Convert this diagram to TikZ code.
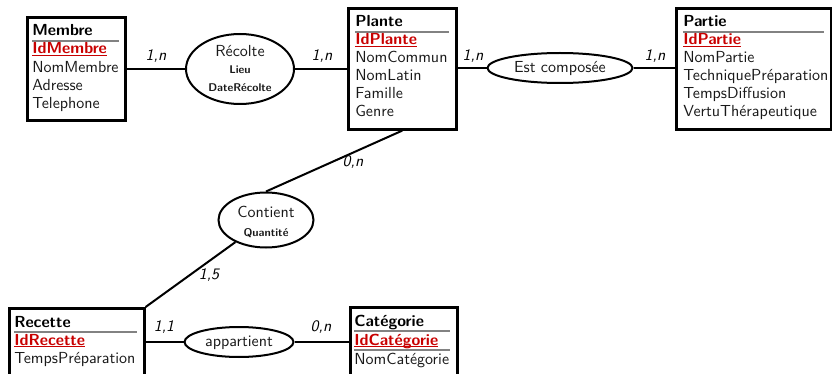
\documentclass[tikz,border=0pt]{standalone}
\usetikzlibrary{shapes.geometric}
\definecolor{pkred}{RGB}{200,0,0}
\definecolor{sepgray}{RGB}{130,130,130}
\newcommand\fsz{\fontsize{10}{12}\selectfont\sffamily}
\newcommand\fsmall{\fontsize{7}{8.5}\selectfont\sffamily\bfseries}
\newcommand\pkul[1]{\setbox0\hbox{#1}\rlap{\rule[-1.5pt]{\wd0}{0.85pt}}\box0}
\tikzset{
 entity/.style={draw, line width=2.6pt, rectangle, inner sep=0pt, anchor=north west},
 assoc/.style={draw, line width=2pt, ellipse, inner sep=0pt},
 link/.style={line width=2pt},
 tx/.style={inner sep=0pt, scale=1.6, transform shape},
 txt/.style={tx, anchor=base west, font=\fsz, text=black!90},
 ttl/.style={txt, font=\fsz\bfseries, text=black},
 pk/.style={txt, font=\fsz\bfseries, text=pkred},
 atxt/.style={tx, anchor=base, font=\fsz, text=black!90},
 asmall/.style={tx, anchor=base, font=\fsmall, text=black!90},
 card/.style={tx, font=\fsz\itshape},
 sepline/.style={draw=sepgray, line width=1.4pt},
}
\begin{document}
\begin{tikzpicture}[x=1pt,y=-1pt]
\useasboundingbox (0,0) rectangle (832,374);
\clip (0,0) rectangle (832,374);

% Membre
\node[entity, minimum width=98pt, minimum height=103pt] (membre) at (26,16) {};
\node[ttl] (membre-t) at (32,36) {Membre};
\draw[sepline] (32,41) -- (119,41);
\node[pk] (membre-id) at (32,54) {\pkul{IdMembre}};
\node[txt] (membre-a1) at (32,73) {NomMembre};
\node[txt] (membre-a2) at (32,91) {Adresse};
\node[txt] (membre-a3) at (32,109) {Telephone};

% Plante
\node[entity, minimum width=108pt, minimum height=121pt] (plante) at (347,7) {};
\node[ttl] (plante-t) at (355,27) {Plante};
\draw[sepline] (355,32) -- (449,32);
\node[pk] (plante-id) at (355,45) {\pkul{IdPlante}};
\node[txt] (plante-a1) at (355,63) {NomCommun};
\node[txt] (plante-a2) at (355,81) {NomLatin};
\node[txt] (plante-a3) at (355,99) {Famille};
\node[txt] (plante-a4) at (355,117) {Genre};

% Partie
\node[entity, minimum width=155pt, minimum height=121pt] (partie) at (675,7) {};
\node[ttl] (partie-t) at (683,27) {Partie};
\draw[sepline] (683,32) -- (824,32);
\node[pk] (partie-id) at (683,45) {\pkul{IdPartie}};
\node[txt] (partie-a1) at (683,63) {NomPartie};
\node[txt] (partie-a2) at (683,81) {TechniquePréparation};
\node[txt] (partie-a3) at (683,99) {TempsDiffusion};
\node[txt] (partie-a4) at (683,117) {VertuThérapeutique};

% Recette
\node[entity, minimum width=135pt, minimum height=80pt] (recette) at (8,307) {};
\node[ttl] (recette-t) at (14,327) {Recette};
\draw[sepline] (14,332) -- (137,332);
\node[pk] (recette-id) at (14,345) {\pkul{IdRecette}};
\node[txt] (recette-a1) at (14,363) {TempsPréparation};

% Categorie
\node[entity, minimum width=107pt, minimum height=80pt] (categorie) at (349,306) {};
\node[ttl] (categorie-t) at (354,326) {Catégorie};
\draw[sepline] (354,331) -- (450,331);
\node[pk] (categorie-id) at (354,345) {\pkul{IdCatégorie}};
\draw[sepline] (354,350) -- (450,350);
\node[txt] (categorie-a1) at (354,364) {NomCatégorie};

% Associations
\node[assoc, minimum width=108pt, minimum height=70pt] (recolte) at (240,69) {};
\node[atxt] (recolte-t) at (240,57) {Récolte};
\node[asmall] (recolte-a1) at (240,74) {Lieu};
\node[asmall] (recolte-a2) at (240,92) {DateRécolte};

\node[assoc, minimum width=145pt, minimum height=30pt] (estcomp) at (560,68) {};
\node[atxt] (estcomp-t) at (560,73) {Est composée};

\node[assoc, minimum width=95pt, minimum height=55pt] (contient) at (266,220) {};
\node[atxt] (contient-t) at (266,217) {Contient};
\node[asmall] (contient-a1) at (266,236) {Quantité};

\node[assoc, minimum width=109pt, minimum height=30pt] (appartient) at (239,342) {};
\node[atxt] (appartient-t) at (239,346) {appartient};

% Links
\draw[link] (membre.east |- recolte) -- (recolte);
\draw[link] (recolte) -- (recolte -| plante.west);
\draw[link] (plante.east |- estcomp) -- (estcomp);
\draw[link] (estcomp) -- (estcomp -| partie.west);
\draw[link] (plante.south) -- (contient.north);
\draw[link] (contient) -- (recette.north east);
\draw[link] (appartient.west -| recette.east) -- (appartient);
\draw[link] (appartient) -- (appartient -| categorie.west);

% Cardinalities
\node[card] (c1) at (156,56) {1,n};
\node[card] (c2) at (322,56) {1,n};
\node[card] (c3) at (473,56) {1,n};
\node[card] (c4) at (655,56) {1,n};
\node[card] (c5) at (353,162) {0,n};
\node[card] (c6) at (209,275) {1,5};
\node[card] (c7) at (164,327) {1,1};
\node[card] (c8) at (321,327) {0,n};
\end{tikzpicture}
\end{document}
